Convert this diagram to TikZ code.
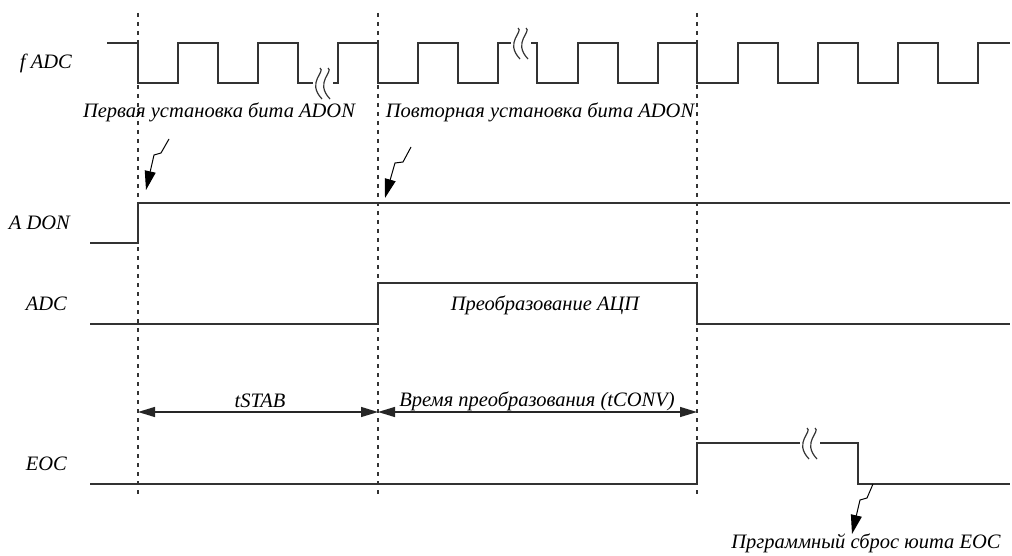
\documentclass[tikz,border=0pt]{standalone}
\usepackage{fontspec}
\setmainfont{Liberation Serif}
\usetikzlibrary{arrows.meta}
\begin{document}
\begin{tikzpicture}[x=1pt,y=-1pt,
  sig/.style={draw=black!80,line width=1.3pt},
  guide/.style={draw=black!80,line width=1.1pt,dash pattern=on 4pt off 5pt},
  lbl/.style={font=\itshape\fontsize{20.5}{22}\selectfont,inner sep=0pt},
  note/.style={draw=black,line width=1pt,-{Triangle[length=19pt,width=11pt]}},
  dim/.style={draw=black!85,line width=1.2pt,{Triangle[length=17pt,width=10pt]}-{Triangle[length=17pt,width=10pt]}},
  brk/.style={draw=black!80,line width=1.2pt}]
\useasboundingbox (0,0) rectangle (1012,556);
% guides
\foreach \gx/\gn in {138/g1,378/g2,697/g3}{
  \coordinate (\gn t) at (\gx,13);
  \coordinate (\gn b) at (\gx,498);
  \draw[guide] (\gn t) -- (\gn b);
}
% signal labels
\node[lbl,anchor=east] (lfadc) at (72,63) {f ADC};
\node[lbl,anchor=east] (ladon) at (70,223) {A DON};
\node[lbl,anchor=east] (ladc) at (67,304) {ADC};
\node[lbl,anchor=east] (leoc) at (67,464) {EOC};
% fADC clock
\draw[sig] (107,43) -- (138,43) -- (138,83) -- (178,83) -- (178,43) -- (218,43) -- (218,83) -- (258,83) -- (258,43) -- (298,43) -- (298,83) -- (338,83) -- (338,43) -- (378,43) -- (378,83) -- (418,83) -- (418,43) -- (458,43) -- (458,83) -- (498,83) -- (498,43) -- (537,43) -- (537,83) -- (578,83) -- (578,43) -- (618,43) -- (618,83) -- (658,83) -- (658,43) -- (697,43) -- (697,83) -- (738,83) -- (738,43) -- (778,43) -- (778,83) -- (818,83) -- (818,43) -- (858,43) -- (858,83) -- (898,83) -- (898,43) -- (938,43) -- (938,83) -- (978,83) -- (978,43) -- (1010,43);
% break marks
\fill[white] (313,77) rectangle (333,89);
\draw[brk] (320,68) .. controls (326,72) and (306,82) .. (322,99);
\draw[brk] (328,68) .. controls (334,72) and (314,82) .. (330,99);
\fill[white] (511,37) rectangle (531,49);
\draw[brk] (518,28) .. controls (524,32) and (504,42) .. (520,59);
\draw[brk] (526,28) .. controls (532,32) and (512,42) .. (528,59);
% ADON
\draw[sig] (90,243) -- (138,243) -- (138,203) -- (1010,203);
% ADC
\draw[sig] (90,324) -- (378,324) -- (378,283) -- (697,283) -- (697,324) -- (1010,324);
\node[lbl] (tconvbox) at (545,305) {Преобразование АЦП};
% EOC
\draw[sig] (90,484) -- (697,484) -- (697,443) -- (858,443) -- (858,484) -- (1010,484);
\fill[white] (800,437) rectangle (820,449);
\draw[brk] (807,428) .. controls (813,432) and (793,442) .. (809,459);
\draw[brk] (815,428) .. controls (821,432) and (801,442) .. (817,459);
% annotations
\node[lbl] (n1) at (219,112) {Первая установка бита ADON};
\node[lbl] (n2) at (540,112) {Повторная установка бита ADON};
\node[lbl] (n3) at (866,543) {Прграммный сброс юита EOC};
\coordinate (a1s) at (169,139);
\coordinate (a1t) at (146,190);
\draw[note] (a1s) -- (161,153) -- (154,155) -- (a1t);
\coordinate (a2s) at (411,147);
\coordinate (a2t) at (385,198);
\draw[note] (a2s) -- (403,162) -- (395,163) -- (a2t);
\coordinate (a3s) at (873,484);
\coordinate (a3t) at (852,534);
\draw[note] (a3s) -- (867,498) -- (860,500) -- (a3t);
% durations
\coordinate (d1) at (138,412);
\coordinate (d2) at (378,412);
\coordinate (d3) at (697,412);
\draw[dim] (d1) -- (d2);
\draw[dim] (d2) -- (d3);
\node[lbl] (ltstab) at (260,401) {tSTAB};
\node[lbl] (ltconv) at (537,401) {Время преобразования (tCONV)};
\end{tikzpicture}
\end{document}
